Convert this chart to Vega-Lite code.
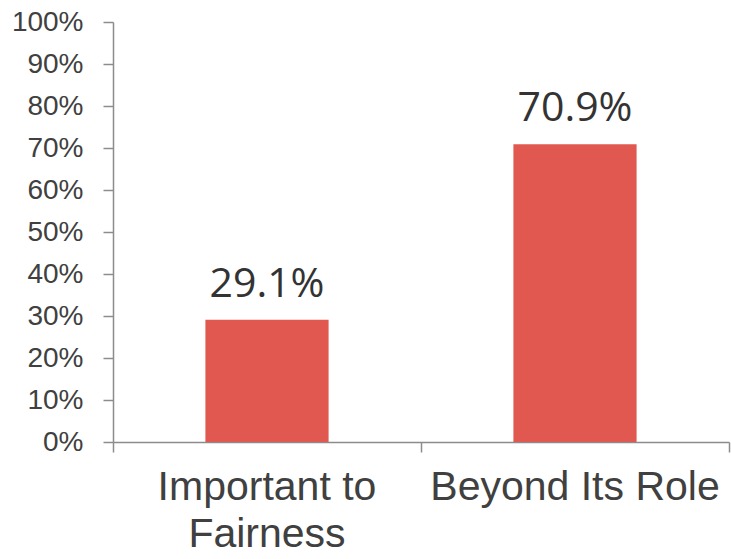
{
  "$schema": "https://vega.github.io/schema/vega-lite/v6.json",
  "autosize": {"type": "none"},
  "padding": {"left": 113, "top": 22, "right": 2, "bottom": 117},
  "width": 616,
  "height": 420,
  "config": {"view": {"stroke": null}},
  "layer": [
    {
      "data": {"values": [
        {"category": "Important to\nFairness", "value": 0.291},
        {"category": "Beyond Its Role", "value": 0.709}
      ]},
      "encoding": {
        "x": {
          "field": "category", "type": "nominal", "sort": null,
          "scale": {"paddingInner": 0, "paddingOuter": 0},
          "axis": {
            "title": null, "labelAngle": 0, "ticks": false, "domain": true,
            "domainColor": "#8c8c8c", "domainWidth": 1.5,
            "labelFont": "Liberation Sans", "labelFontSize": 41, "labelColor": "#404040",
            "labelPadding": 25, "labelLineHeight": 47, "labelLimit": 0,
            "labelExpr": "split(datum.label, '\\n')"
          }
        },
        "y": {
          "field": "value", "type": "quantitative",
          "scale": {"domain": [0, 1], "nice": false},
          "axis": {
            "title": null, "values": [0,0.1,0.2,0.3,0.4,0.5,0.6,0.7,0.8,0.9,1],
            "format": ".0%", "grid": false,
            "domainColor": "#8c8c8c", "domainWidth": 1.5,
            "tickColor": "#8c8c8c", "tickSize": 10, "tickWidth": 1.5,
            "labelFont": "Liberation Sans", "labelFontSize": 28, "labelColor": "#404040",
            "labelPadding": 20
          }
        }
      },
      "layer": [
        {"mark": {"type": "bar", "color": "#E0584F", "width": {"band": 0.4}}},
        {
          "mark": {"type": "text", "font": "Open Sans", "fontSize": 41, "color": "#333333", "baseline": "alphabetic", "dy": -23},
          "encoding": {"text": {"field": "value", "type": "quantitative", "format": ".1%"}}
        }
      ]
    },
    {
      "data": {"values": [{"t": 0}, {"t": 1}, {"t": 2}]},
      "mark": {"type": "rule", "opacity": 0},
      "encoding": {
        "x": {
          "field": "t", "type": "quantitative",
          "scale": {"domain": [0, 2], "nice": false, "zero": false},
          "axis": {
            "orient": "bottom", "title": null, "values": [0, 1, 2],
            "labels": false, "domain": false, "grid": false,
            "tickColor": "#8c8c8c", "tickSize": 10, "tickWidth": 1.5
          }
        }
      }
    }
  ],
  "resolve": {"scale": {"x": "independent"}, "axis": {"x": "independent"}}
}
